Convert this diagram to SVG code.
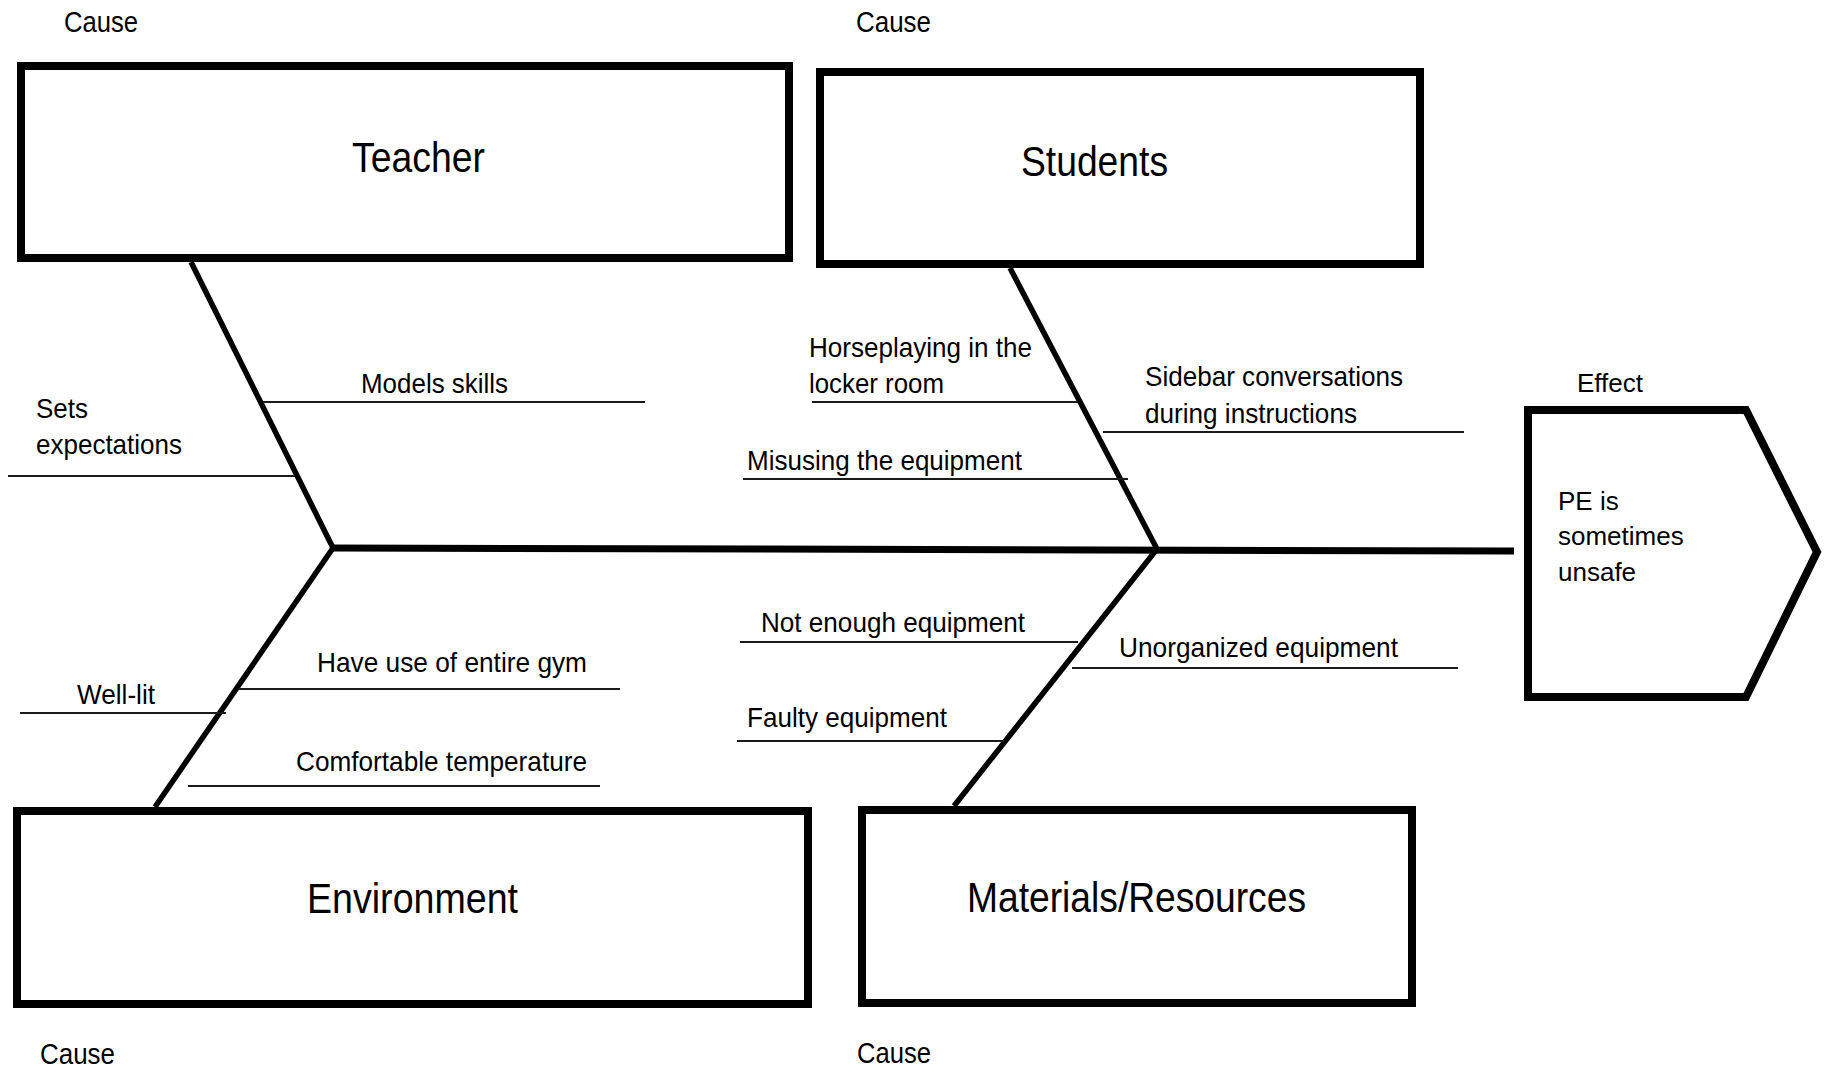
<svg xmlns="http://www.w3.org/2000/svg" width="1826" height="1072" viewBox="0 0 1826 1072">
  <style>
    .box { fill: #ffffff; stroke: #000000; stroke-width: 8; stroke-linejoin: miter; }
    .bone { stroke: #000000; stroke-width: 5.5; fill: none; stroke-linecap: butt; }
    .spine { stroke: #000000; stroke-width: 7; fill: none; }
    .rib { stroke: #1a1a1a; stroke-width: 2; fill: none; }
    .narrow { font-family: "Liberation Sans", Arial, sans-serif; fill: #000000; }
    .cause { font-size: 30px; }
    .title { font-size: 43px; }
    .item { font-size: 28px; }
    .plain { font-family: "Liberation Sans", Arial, sans-serif; font-size: 26px; fill: #000000; }
  </style>
  <rect width="1826" height="1072" fill="#ffffff"/>

  <!-- fishbone skeleton and cause ribs -->
  <g id="connectors">
    <line class="spine" x1="333" y1="548" x2="1514" y2="551"/>
    <line class="bone" x1="191" y1="262" x2="333" y2="548"/>
    <line class="bone" x1="1010" y1="268" x2="1157" y2="549"/>
    <line class="bone" x1="333" y1="548" x2="155" y2="807"/>
    <line class="bone" x1="1157" y1="549" x2="954" y2="806"/>

    <line class="rib" x1="263" y1="402" x2="645" y2="402"/>
    <line class="rib" x1="8" y1="476" x2="295" y2="476"/>
    <line class="rib" x1="812" y1="402" x2="1078" y2="402"/>
    <line class="rib" x1="1103" y1="432" x2="1464" y2="432"/>
    <line class="rib" x1="743" y1="479" x2="1128" y2="479"/>
    <line class="rib" x1="238" y1="689" x2="620" y2="689"/>
    <line class="rib" x1="20" y1="713" x2="226" y2="713"/>
    <line class="rib" x1="188" y1="786" x2="600" y2="786"/>
    <line class="rib" x1="740" y1="642" x2="1078" y2="642"/>
    <line class="rib" x1="1072" y1="668" x2="1458" y2="668"/>
    <line class="rib" x1="737" y1="741" x2="1004" y2="741"/>
  </g>

  <!-- cause category boxes -->
  <g id="teacher">
    <text class="narrow cause" x="64" y="32" textLength="74" lengthAdjust="spacingAndGlyphs">Cause</text>
    <rect class="box" x="21" y="66" width="768" height="192"/>
    <text class="narrow title" x="352" y="172" textLength="133" lengthAdjust="spacingAndGlyphs">Teacher</text>
  </g>
  <g id="students">
    <text class="narrow cause" x="856" y="32" textLength="75" lengthAdjust="spacingAndGlyphs">Cause</text>
    <rect class="box" x="820" y="72" width="600" height="192"/>
    <text class="narrow title" x="1021" y="176" textLength="147" lengthAdjust="spacingAndGlyphs">Students</text>
  </g>
  <g id="environment">
    <rect class="box" x="17" y="811" width="791" height="193"/>
    <text class="narrow title" x="307" y="913" textLength="211" lengthAdjust="spacingAndGlyphs">Environment</text>
    <text class="narrow cause" x="40" y="1064" textLength="75" lengthAdjust="spacingAndGlyphs">Cause</text>
  </g>
  <g id="materials">
    <rect class="box" x="862" y="810" width="550" height="193"/>
    <text class="narrow title" x="967" y="912" textLength="339" lengthAdjust="spacingAndGlyphs">Materials/Resources</text>
    <text class="narrow cause" x="857" y="1063" textLength="74" lengthAdjust="spacingAndGlyphs">Cause</text>
  </g>

  <!-- effect head -->
  <g id="effect">
    <text class="plain" x="1577" y="392">Effect</text>
    <path class="box" d="M1528,410 L1746,410 L1817,552 L1746,697 L1528,697 Z"/>
    <text class="plain" x="1558" y="510">PE is</text>
    <text class="plain" x="1558" y="545">sometimes</text>
    <text class="plain" x="1558" y="581">unsafe</text>
  </g>

  <!-- rib labels -->
  <g id="teacher-causes">
    <text class="narrow item" x="361" y="393" textLength="147" lengthAdjust="spacingAndGlyphs">Models skills</text>
    <text class="narrow item" x="36" y="418" textLength="52" lengthAdjust="spacingAndGlyphs">Sets</text>
    <text class="narrow item" x="36" y="454" textLength="146" lengthAdjust="spacingAndGlyphs">expectations</text>
  </g>
  <g id="student-causes">
    <text class="narrow item" x="809" y="357" textLength="223" lengthAdjust="spacingAndGlyphs">Horseplaying in the</text>
    <text class="narrow item" x="809" y="393" textLength="135" lengthAdjust="spacingAndGlyphs">locker room</text>
    <text class="narrow item" x="1145" y="386" textLength="258" lengthAdjust="spacingAndGlyphs">Sidebar conversations</text>
    <text class="narrow item" x="1145" y="423" textLength="212" lengthAdjust="spacingAndGlyphs">during instructions</text>
    <text class="narrow item" x="747" y="470" textLength="275" lengthAdjust="spacingAndGlyphs">Misusing the equipment</text>
  </g>
  <g id="environment-causes">
    <text class="narrow item" x="317" y="672" textLength="270" lengthAdjust="spacingAndGlyphs">Have use of entire gym</text>
    <text class="narrow item" x="77" y="704" textLength="78" lengthAdjust="spacingAndGlyphs">Well-lit</text>
    <text class="narrow item" x="296" y="771" textLength="291" lengthAdjust="spacingAndGlyphs">Comfortable temperature</text>
  </g>
  <g id="materials-causes">
    <text class="narrow item" x="761" y="632" textLength="264" lengthAdjust="spacingAndGlyphs">Not enough equipment</text>
    <text class="narrow item" x="1119" y="657" textLength="279" lengthAdjust="spacingAndGlyphs">Unorganized equipment</text>
    <text class="narrow item" x="747" y="727" textLength="200" lengthAdjust="spacingAndGlyphs">Faulty equipment</text>
  </g>
</svg>
